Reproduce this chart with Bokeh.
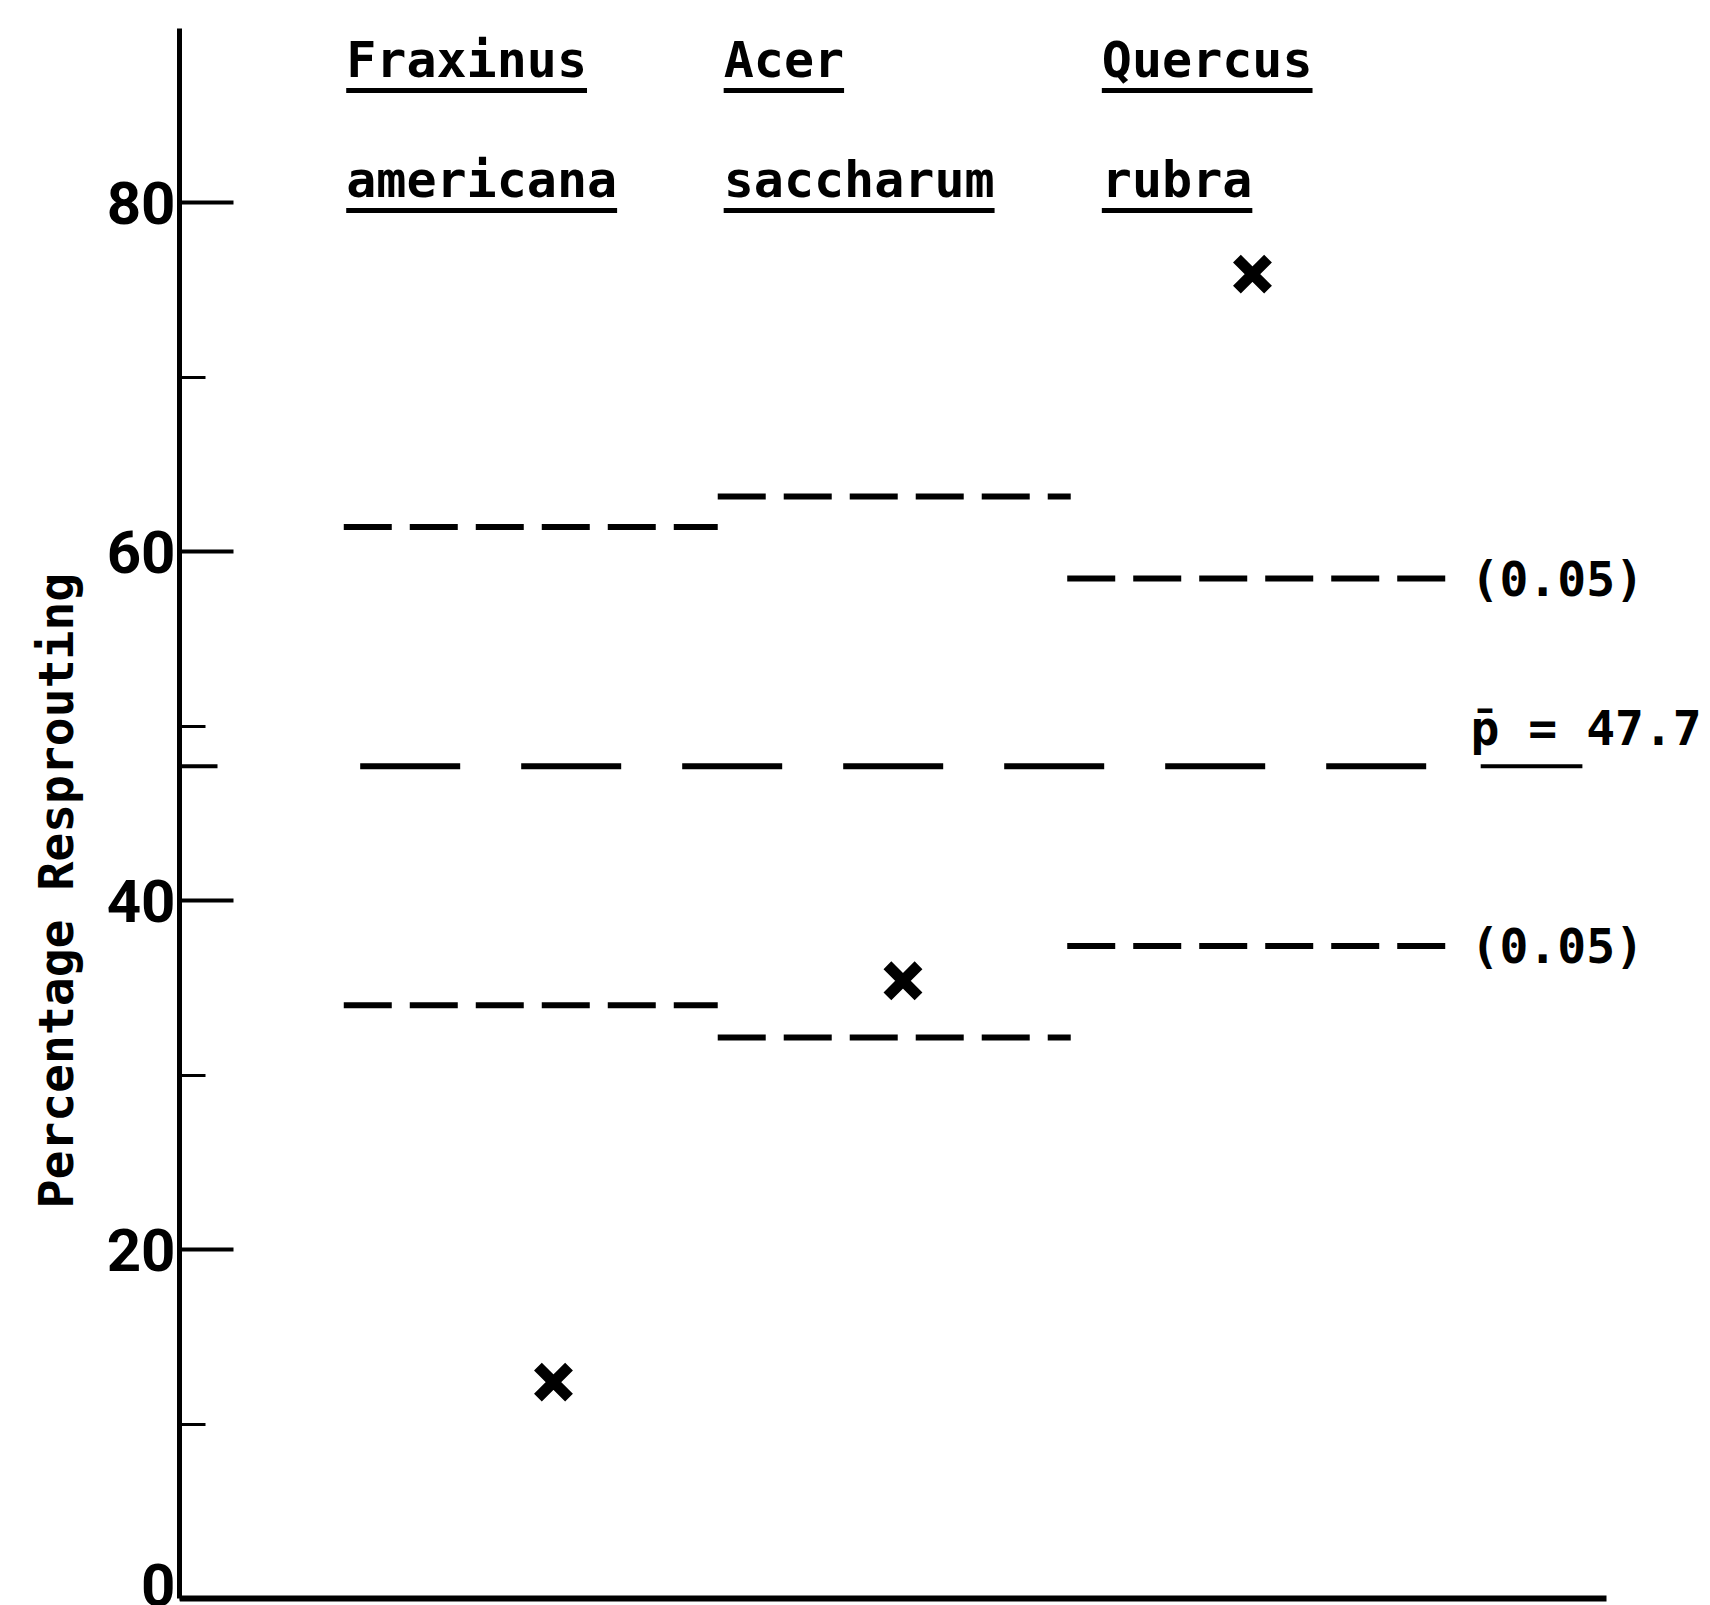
import numpy as np
from bokeh.plotting import figure
from bokeh.models import Range1d, FixedTicker, Title
from bokeh.core.properties import value
from bokeh.embed import file_html
from bokeh.resources import INLINE

# ---------------- data ----------------
species_genus = ["Fraxinus", "Acer", "Quercus"]
species_epithet = ["americana", "saccharum", "rubra"]
category_pos = [1, 2, 3]
resprout_pct = [12.4, 35.4, 75.9]      # observed percentage resprouting (x marks)
upper_limit = [61.4, 63.15, 58.45]     # upper 0.05 limit
lower_limit = [34.0, 32.15, 37.4]      # lower 0.05 limit
p_bar = 47.7                           # overall mean
limit_label = "(0.05)"
mean_label = "p\u0304 = 47.7"
major_ticks = [0, 20, 40, 60, 80]
minor_ticks = [10, 30, 50, 70]
y_label = "Percentage Resprouting"

# ---------------- layout / style ----------------
W, H = 1710, 1605
LEFT = 179
X0 = -0.07
PX_PER_X = 349.5
X1 = X0 + (W - LEFT) / PX_PER_X
Y0, Y1 = -0.40, 91.58
AXIS_TOP = 90
X_AXIS_END = 4.013
SPAN_L = [0.60, 0.53, 0.53]
SPAN_R = [0.47, 0.48, 0.57]
MEAN_START, MEAN_END = 0.447, 3.504
HEADER_X = [0.407, 1.487, 2.569]
HEADER_Y1, UL_Y1 = 88.19, 86.42
HEADER_Y2, UL_Y2 = 81.32, 79.54
LABEL_X = 3.624
MONO = "DejaVu Sans Mono"
HEADER_FS = 50
BLACK = "#000000"

p = figure(width=W, height=H, x_range=Range1d(X0, X1), y_range=Range1d(Y0, Y1),
           x_axis_location=None, y_axis_location="left",
           output_backend="svg", toolbar_location=None,
           min_border_left=LEFT, min_border_right=0, min_border_top=0, min_border_bottom=0)
p.grid.visible = False
p.outline_line_color = None
p.background_fill_color = "white"
p.border_fill_color = "white"

ax = p.yaxis[0]
ax.ticker = FixedTicker(ticks=major_ticks, minor_ticks=minor_ticks)
ax.bounds = (0, AXIS_TOP)
ax.axis_line_width = 5
ax.axis_line_color = BLACK
ax.major_tick_in = 54
ax.major_tick_out = 0
ax.minor_tick_in = 26
ax.minor_tick_out = 0
ax.major_tick_line_width = 4
ax.minor_tick_line_width = 3
ax.major_tick_line_color = BLACK
ax.minor_tick_line_color = BLACK
ax.major_label_text_font = "Roboto"
ax.major_label_text_font_style = "bold"
ax.major_label_text_font_size = "60px"
ax.major_label_text_color = BLACK
ax.major_label_standoff = 4

# y-axis title, placed in the left border
p.add_layout(Title(text=y_label, align="left", offset=397, vertical_align="middle",
                   standoff=38, text_font=MONO, text_font_style="bold",
                   text_font_size="48px", text_color=BLACK), "left")

# x axis line
p.segment(x0=[X0], y0=[0], x1=[X_AXIS_END], y1=[0], line_width=6, line_color=BLACK)

# tick mark for the mean on the y axis
p.segment(x0=[X0], y0=[p_bar], x1=[X0 + 38 / PX_PER_X], y1=[p_bar], line_width=4, line_color=BLACK)

# mean line
p.segment(x0=[MEAN_START], y0=[p_bar], x1=[MEAN_END], y1=[p_bar],
          line_width=6, line_color=BLACK, line_dash="100 61")
p.segment(x0=[3.653], y0=[p_bar], x1=[3.944], y1=[p_bar], line_width=4, line_color=BLACK)
p.text(x=[LABEL_X], y=[p_bar], text=[mean_label], text_font=value(MONO), text_font_style="bold",
       text_font_size="48px", text_color=BLACK, text_baseline="middle", text_align="left",
       y_offset=-38)

# confidence limits
xs0 = [c - l for c, l in zip(category_pos, SPAN_L)]
xs1 = [c + r for c, r in zip(category_pos, SPAN_R)]
p.segment(x0=xs0, y0=upper_limit, x1=xs1, y1=upper_limit, line_width=6,
          line_color=BLACK, line_dash="48 18")
p.segment(x0=xs0, y0=lower_limit, x1=xs1, y1=lower_limit, line_width=6,
          line_color=BLACK, line_dash="48 18")
p.text(x=[LABEL_X, LABEL_X], y=[upper_limit[-1], lower_limit[-1]], text=[limit_label, limit_label],
       text_font=value(MONO), text_font_style="bold", text_font_size="48px",
       text_color=BLACK, text_baseline="middle", text_align="left")

# observed values
p.scatter(x=category_pos, y=resprout_pct, marker="x", size=44, line_width=11, line_color=BLACK)

# species headers
char_w = 0.602 * HEADER_FS / PX_PER_X
p.text(x=HEADER_X, y=[HEADER_Y1] * 3, text=species_genus, text_font=value(MONO),
       text_font_style="bold", text_font_size=f"{HEADER_FS}px", text_color=BLACK,
       text_baseline="middle", text_align="left")
p.text(x=HEADER_X, y=[HEADER_Y2] * 3, text=species_epithet, text_font=value(MONO),
       text_font_style="bold", text_font_size=f"{HEADER_FS}px", text_color=BLACK,
       text_baseline="middle", text_align="left")
p.segment(x0=HEADER_X, y0=[UL_Y1] * 3, x1=[hx + len(t) * char_w for hx, t in zip(HEADER_X, species_genus)],
          y1=[UL_Y1] * 3, line_width=5, line_color=BLACK)
p.segment(x0=HEADER_X, y0=[UL_Y2] * 3, x1=[hx + len(t) * char_w for hx, t in zip(HEADER_X, species_epithet)],
          y1=[UL_Y2] * 3, line_width=5, line_color=BLACK)

open("out.html", "w").write(file_html(p, INLINE))
